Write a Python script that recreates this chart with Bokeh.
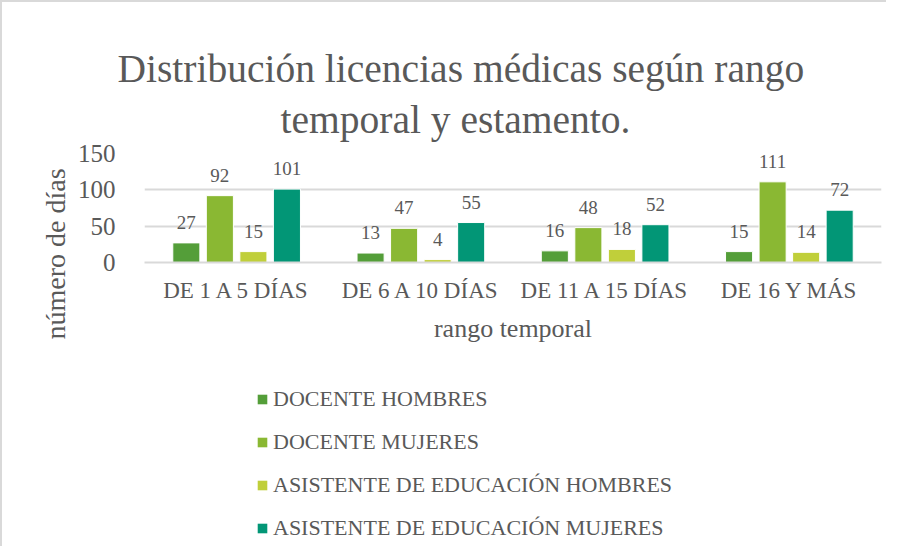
from bokeh.plotting import figure
from bokeh.layouts import column
from bokeh.models import (ColumnDataSource, FactorRange, Legend, LegendItem, Range1d,
                          FixedTicker, LabelSet, Title)
from bokeh.transform import dodge
from bokeh.embed import file_html
from bokeh.resources import INLINE

categories = ["DE 1 A 5 DÍAS", "DE 6 A 10 DÍAS", "DE 11 A 15 DÍAS", "DE 16 Y MÁS"]
series_names = ["DOCENTE HOMBRES", "DOCENTE MUJERES",
                "ASISTENTE DE EDUCACIÓN HOMBRES", "ASISTENTE DE EDUCACIÓN MUJERES"]
docente_hombres = [27, 13, 16, 15]
docente_mujeres = [92, 47, 48, 111]
asistente_hombres = [15, 4, 18, 14]
asistente_mujeres = [101, 55, 52, 72]
y_ticks = [0, 50, 100, 150]
colors = ["#549E39", "#8AB833", "#C0CF3A", "#029676"]

FONT = "Liberation Serif"
TXT = "#595959"

series_values = [docente_hombres, docente_mujeres, asistente_hombres, asistente_mujeres]

p = figure(frame_width=735, frame_height=107,
           x_range=FactorRange(*categories, range_padding=0),
           y_range=Range1d(0, 150), output_backend="svg", toolbar_location=None,
           min_border_left=142, min_border_right=7, min_border_top=151,
           min_border_bottom=90)
p.styles = {"border-left": "2px solid #d9d9d9", "border-top": "2px solid #d9d9d9"}
p.outline_line_color = None
p.background_fill_color = "white"

# separate strip below the chart that only holds the legend
# (its y range lies far above the data, so its bars stay out of view)
leg_fig = figure(width=884, height=196, x_range=FactorRange(*categories),
                 y_range=Range1d(500, 501), output_backend="svg", toolbar_location=None,
                 min_border=0)
leg_fig.styles = {"border-left": "2px solid #d9d9d9"}
leg_fig.outline_line_color = None
leg_fig.axis.visible = False
leg_fig.grid.visible = False

offsets = [-0.273, -0.091, 0.091, 0.273]
items = []
for name, vals, col, off in zip(series_names, series_values, colors, offsets):
    src = ColumnDataSource(dict(cat=categories, top=vals, lbl=[str(v) for v in vals]))
    p.vbar(x=dodge("cat", off, range=p.x_range), top="top", width=0.147, source=src,
           fill_color=col, line_color="white", line_width=1)
    r2 = leg_fig.vbar(x=dodge("cat", off, range=leg_fig.x_range), top="top", width=0.147,
                      source=src, fill_color=col, line_color=None)
    items.append(LegendItem(label=name, renderers=[r2]))
    p.add_layout(LabelSet(x=dodge("cat", off, range=p.x_range), y="top", text="lbl",
                          source=src, y_offset=14, text_align="center",
                          text_baseline="alphabetic", text_font=FONT,
                          text_font_size="19px", text_color=TXT))

# axes
p.yaxis.ticker = FixedTicker(ticks=y_ticks)
p.yaxis.axis_line_color = None
p.yaxis.major_tick_line_color = None
p.yaxis.minor_tick_line_color = None
p.yaxis.major_label_text_font = FONT
p.yaxis.major_label_text_font_size = "25px"
p.yaxis.major_label_text_color = TXT
p.yaxis.major_label_standoff = 23

p.xaxis.axis_line_color = "#d9d9d9"
p.xaxis.axis_line_width = 2
p.xaxis.major_tick_line_color = None
p.xaxis.minor_tick_line_color = None
p.xaxis.major_label_text_font = FONT
p.xaxis.major_label_text_font_size = "23px"
p.xaxis.major_label_text_color = TXT
p.xaxis.major_label_standoff = 9
p.xaxis.axis_label = "rango temporal"
p.xaxis.axis_label_text_font = FONT
p.xaxis.axis_label_text_font_size = "26px"
p.xaxis.axis_label_text_font_style = "normal"
p.xaxis.axis_label_text_color = TXT
p.xaxis.axis_label_standoff = 8

p.xgrid.grid_line_color = None
p.ygrid.grid_line_color = "#d9d9d9"
p.ygrid.grid_line_width = 2

# y axis title (as a side title so it can sit lower, like the reference)
p.add_layout(Title(text="número de días", align="left", text_font=FONT,
                   text_font_size="28px", text_font_style="normal", text_color=TXT,
                   offset=-77, standoff=8), "left")

# title (two lines)
p.add_layout(Title(text="temporal y estamento.", align="left", text_font=FONT,
                   text_font_size="39.5px", text_font_style="normal", text_color=TXT,
                   offset=136, standoff=24), "above")
p.add_layout(Title(text="Distribución licencias médicas según rango", align="left",
                   text_font=FONT, text_font_size="39.5px", text_font_style="normal",
                   text_color=TXT, offset=-27, standoff=-14), "above")

legend = Legend(items=items, location=(112, 5), orientation="vertical",
                glyph_width=12, glyph_height=12, spacing=17, padding=0, margin=0,
                label_text_font=FONT, label_text_font_size="22px",
                label_text_color=TXT, label_standoff=5,
                border_line_color=None, background_fill_alpha=0)
leg_fig.add_layout(legend, "center")

open("out.html", "w").write(file_html(column(p, leg_fig), INLINE))
